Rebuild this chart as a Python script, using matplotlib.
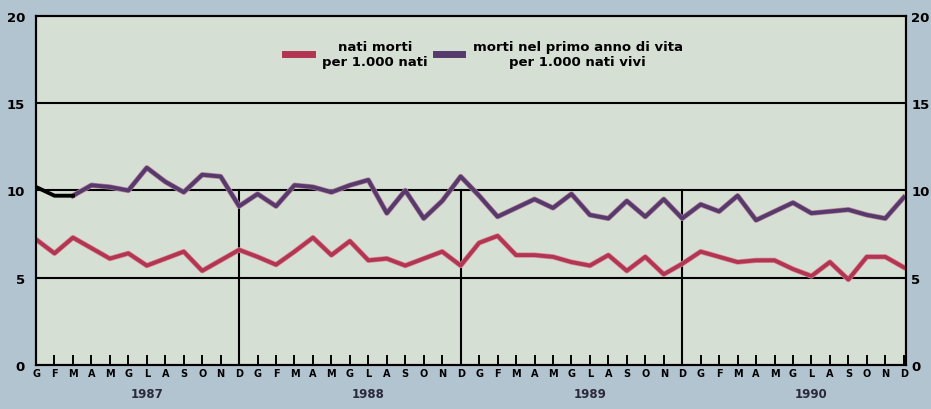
import numpy as np
import matplotlib.pyplot as plt
import matplotlib.patheffects as pe

# mesi (G F M A M G L A S O N D) per 4 anni
MESI = ["G", "F", "M", "A", "M", "G", "L", "A", "S", "O", "N", "D"]
ANNI = ["1987", "1988", "1989", "1990"]

# nati morti per 1.000 nati
nati_morti = [7.2, 6.4, 7.3, 6.7, 6.1, 6.4, 5.7, 6.1, 6.5, 5.4, 6.0, 6.6,
              6.2, 5.75, 6.5, 7.3, 6.3, 7.1, 6.0, 6.1, 5.7, 6.1, 6.5, 5.7,
              7.0, 7.4, 6.3, 6.3, 6.2, 5.9, 5.7, 6.3, 5.4, 6.2, 5.2, 5.8,
              6.5, 6.2, 5.9, 6.0, 6.0, 5.5, 5.1, 5.9, 4.9, 6.2, 6.2, 5.6]

# morti nel primo anno di vita per 1.000 nati vivi
morti_primo_anno = [10.2, 9.7, 9.7, 10.3, 10.2, 10.0, 11.3, 10.5, 9.9, 10.9, 10.8, 9.1,
                    9.8, 9.1, 10.3, 10.2, 9.9, 10.3, 10.6, 8.7, 10.0, 8.4, 9.4, 10.8,
                    9.7, 8.5, 9.0, 9.5, 9.0, 9.8, 8.6, 8.4, 9.4, 8.5, 9.5, 8.4,
                    9.2, 8.8, 9.7, 8.3, 8.8, 9.3, 8.7, 8.8, 8.9, 8.6, 8.4, 9.6]
N_NERI = 3  # primi mesi tracciati in nero

BG_OUT = '#b2c4d0'
BG_IN = '#d6dfd3'
ROSSO = '#b23651'
VIOLA = '#553a6c'

x = np.arange(len(nati_morti))

fig = plt.figure(figsize=(9.31, 4.10), dpi=100, facecolor=BG_OUT)
ax = fig.add_axes([0.0387, 0.107, 0.934, 0.852])
ax.set_facecolor(BG_IN)

# griglia orizzontale e linee di fine anno
for v in [5, 10, 15]:
    ax.axhline(v, color='black', lw=1.5, zorder=1)
for k in range(1, len(ANNI)):
    ax.plot([12 * k - 1, 12 * k - 1], [0, 10], color='black', lw=1.5, zorder=1)

ax.plot(x, nati_morti, color=ROSSO, lw=2.8, zorder=3,
        label='nati morti\nper 1.000 nati',
        path_effects=[pe.Stroke(linewidth=3.8, foreground='#d88a9c'), pe.Normal()])
ax.plot(x[N_NERI - 1:], morti_primo_anno[N_NERI - 1:], color=VIOLA, lw=2.8, zorder=3,
        label='morti nel primo anno di vita\nper 1.000 nati vivi',
        path_effects=[pe.Stroke(linewidth=3.8, foreground='#b87d9a'), pe.Normal()])
ax.plot(x[:N_NERI], morti_primo_anno[:N_NERI], color='black', lw=2.8, zorder=4)

ax.set_xlim(0, len(x) - 0.9)
ax.set_ylim(0, 20)

ax.set_xticks(x)
ax.set_xticklabels(MESI * len(ANNI), fontsize=7, fontweight='bold')
ax.tick_params(axis='x', direction='in', length=7, width=1.4, pad=2)
ax.set_yticks([0, 5, 10, 15, 20])
ax.tick_params(axis='y', length=0, labelsize=9.5, pad=8)
for t in ax.get_yticklabels():
    t.set_fontweight('bold')

ay = ax.twinx()
ay.set_ylim(0, 20)
ay.set_yticks([0, 5, 10, 15, 20])
ay.tick_params(axis='y', length=0, labelsize=9.5, pad=4)
for t in ay.get_yticklabels():
    t.set_fontweight('bold')

for a in (ax, ay):
    for s in a.spines.values():
        s.set_linewidth(1.5)

for k, anno in enumerate(ANNI):
    ax.text(12 * k + 6, -1.6, anno, ha='center', va='center', fontsize=8.5,
            fontweight='bold', color='#2a2a3a')

leg = ax.legend(loc='upper center', bbox_to_anchor=(0.515, 0.965), ncol=2,
                frameon=False, fontsize=9.5, handlelength=2.0, columnspacing=0.6,
                handletextpad=0.8)
for t in leg.get_texts():
    t.set_multialignment('center')
    t.set_fontweight('bold')
for h in leg.get_lines():
    h.set_linewidth(5)
    h.set_path_effects([])

fig.savefig('out.png', dpi=100, facecolor=BG_OUT)
